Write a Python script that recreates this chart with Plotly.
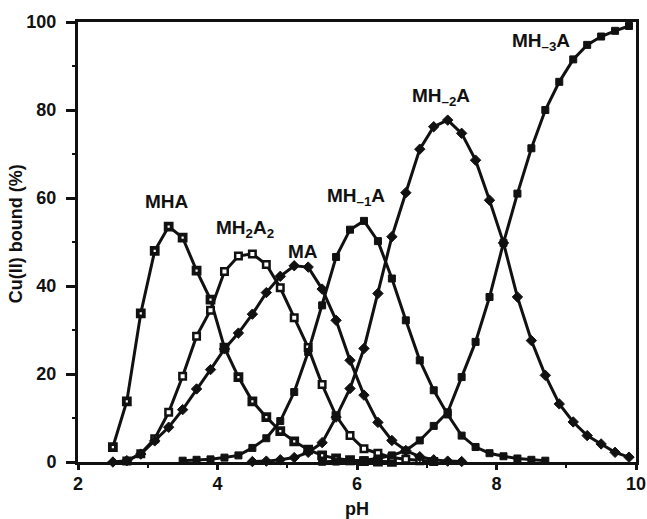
import plotly.graph_objects as go

# ---- data ----
ph_mha = [2.5, 2.7, 2.9, 3.1, 3.3, 3.5, 3.7, 3.9, 4.1, 4.3, 4.5, 4.7, 4.9, 5.1, 5.3, 5.5, 5.7, 5.9, 6.1, 6.3, 6.5]
mha = [3.4, 13.8, 33.8, 48.0, 53.5, 51.0, 43.5, 36.9, 26.0, 19.3, 13.8, 10.2, 7.0, 4.7, 2.8, 1.5, 0.8, 0.4, 0.2, 0.1, 0.05]

ph_mh2a2 = [2.7, 2.9, 3.1, 3.3, 3.5, 3.7, 3.9, 4.1, 4.3, 4.5, 4.7, 4.9, 5.1, 5.3, 5.5, 5.7, 5.9, 6.1, 6.3, 6.5, 6.7, 6.9, 7.1]
mh2a2 = [0.2, 1.9, 5.3, 11.3, 19.5, 28.6, 34.5, 43.3, 46.8, 47.3, 44.9, 39.6, 32.8, 26.0, 17.6, 10.5, 6.0, 3.0, 2.0, 1.0, 0.6, 0.3, 0.1]

ph_ma = [2.5, 2.7, 2.9, 3.1, 3.3, 3.5, 3.7, 3.9, 4.1, 4.3, 4.5, 4.7, 4.9, 5.1, 5.3, 5.5, 5.7, 5.9, 6.1, 6.3, 6.5, 6.7, 6.9, 7.1, 7.3, 7.5]
ma = [0.0, 0.3, 1.8, 4.8, 7.9, 11.9, 16.6, 21.0, 25.7, 29.3, 33.6, 38.5, 42.2, 44.6, 44.3, 39.3, 32.2, 23.1, 15.2, 9.0, 4.9, 2.6, 1.2, 0.5, 0.2, 0.1]

ph_mh1a = [3.5, 3.7, 3.9, 4.1, 4.3, 4.5, 4.7, 4.9, 5.1, 5.3, 5.5, 5.7, 5.9, 6.1, 6.3, 6.5, 6.7, 6.9, 7.1, 7.3, 7.5, 7.7, 7.9, 8.1, 8.3, 8.5, 8.7]
mh1a = [0.3, 0.5, 0.6, 1.0, 1.5, 3.2, 5.4, 9.3, 15.9, 25.0, 35.6, 46.6, 52.8, 54.8, 50.2, 41.7, 32.2, 23.1, 16.3, 10.8, 6.0, 3.4, 2.0, 1.3, 0.8, 0.5, 0.3]

ph_mh2a = [4.5, 4.7, 4.9, 5.1, 5.3, 5.5, 5.7, 5.9, 6.1, 6.3, 6.5, 6.7, 6.9, 7.1, 7.3, 7.5, 7.7, 7.9, 8.1, 8.3, 8.5, 8.7, 8.9, 9.1, 9.3, 9.5, 9.7, 9.9]
mh2a = [0.1, 0.2, 0.5, 1.0, 2.2, 4.4, 10.2, 16.7, 25.8, 38.3, 51.2, 61.2, 71.1, 76.2, 77.7, 74.7, 68.6, 59.5, 49.8, 37.5, 27.6, 19.7, 13.2, 9.1, 6.0, 4.1, 2.2, 1.1]

ph_mh3a = [5.5, 5.7, 5.9, 6.1, 6.3, 6.5, 6.7, 6.9, 7.1, 7.3, 7.5, 7.7, 7.9, 8.1, 8.3, 8.5, 8.7, 8.9, 9.1, 9.3, 9.5, 9.7, 9.9]
mh3a = [0.05, 0.1, 0.2, 0.4, 0.8, 1.5, 2.6, 4.9, 8.2, 11.3, 19.3, 27.3, 37.5, 49.8, 61.0, 71.3, 80.0, 86.4, 91.5, 94.8, 96.7, 98.0, 99.1]

labels = ["MHA", "MH<sub>2</sub>A<sub>2</sub>", "MA", "MH<sub>–1</sub>A", "MH<sub>–2</sub>A", "MH<sub>–3</sub>A"]
label_x = [3.28, 4.40, 5.22, 5.99, 7.20, 8.64]
label_y = [59.3, 53.0, 47.9, 60.2, 82.9, 95.5]

x_ticks = [2, 4, 6, 8, 10]
y_ticks = [0, 20, 40, 60, 80, 100]

FONT = "Liberation Sans, Arial, sans-serif"
INK = "#111111"

fig = go.Figure()

def add(x, y, symbol, size, fill, lw):
    fig.add_trace(go.Scatter(
        x=x, y=y, mode="lines+markers",
        line=dict(color=INK, width=3),
        marker=dict(symbol=symbol, size=size, color=fill,
                    line=dict(color=INK, width=lw)),
        showlegend=False, cliponaxis=False,
    ))

add(ph_mha, mha, "square", 6, "white", 3.8)
add(ph_mh2a2, mh2a2, "square", 6.5, "white", 2.5)
add(ph_ma, ma, "diamond", 8, INK, 1)
add(ph_mh1a, mh1a, "square", 7, INK, 1)
add(ph_mh2a, mh2a, "diamond", 8, INK, 1)
add(ph_mh3a, mh3a, "square", 7, INK, 1)

for t, x, y in zip(labels, label_x, label_y):
    fig.add_annotation(x=x, y=y, text=t, showarrow=False,
                       font=dict(family=FONT, size=19, color=INK, weight="bold"),
                       xanchor="center", yanchor="middle")

# axis titles placed as paper annotations
fig.add_annotation(xref="paper", yref="paper", x=-0.111, y=0.518,
                   text="Cu(II) bound (%)", textangle=-90, showarrow=False,
                   font=dict(family=FONT, size=18, color=INK, weight="bold"),
                   xanchor="center", yanchor="middle")
fig.add_annotation(xref="paper", yref="paper", x=0.5, y=-0.106,
                   text="pH", showarrow=False,
                   font=dict(family=FONT, size=18, color=INK, weight="bold"),
                   xanchor="center", yanchor="middle")

axis_common = dict(
    showline=True, linewidth=3, linecolor=INK, mirror=True,
    ticks="outside", tickwidth=2.5, tickcolor=INK,
    showgrid=False, zeroline=False, automargin=False,
    tickfont=dict(family=FONT, size=18, color=INK, weight="bold"),
)

fig.update_xaxes(range=[2, 10], tickvals=x_ticks, ticklen=5, ticklabelstandoff=-2,
                 minor=dict(tickvals=[3, 5, 7, 9], ticks="outside", ticklen=3, tickwidth=2, tickcolor=INK),
                 **axis_common)
fig.update_yaxes(range=[0, 100], tickvals=y_ticks, ticklen=9, ticklabelstandoff=6,
                 minor=dict(tickvals=[10, 30, 50, 70, 90], ticks="outside", ticklen=3, tickwidth=2, tickcolor=INK),
                 **axis_common)

fig.update_layout(
    width=647, height=519,
    margin=dict(l=78, r=11, t=22, b=57),
    plot_bgcolor="white", paper_bgcolor="white",
)

fig.write_html("out.html", config={"displayModeBar": False},
               post_script="document.body.style.margin='0';document.body.style.overflow='hidden';")
